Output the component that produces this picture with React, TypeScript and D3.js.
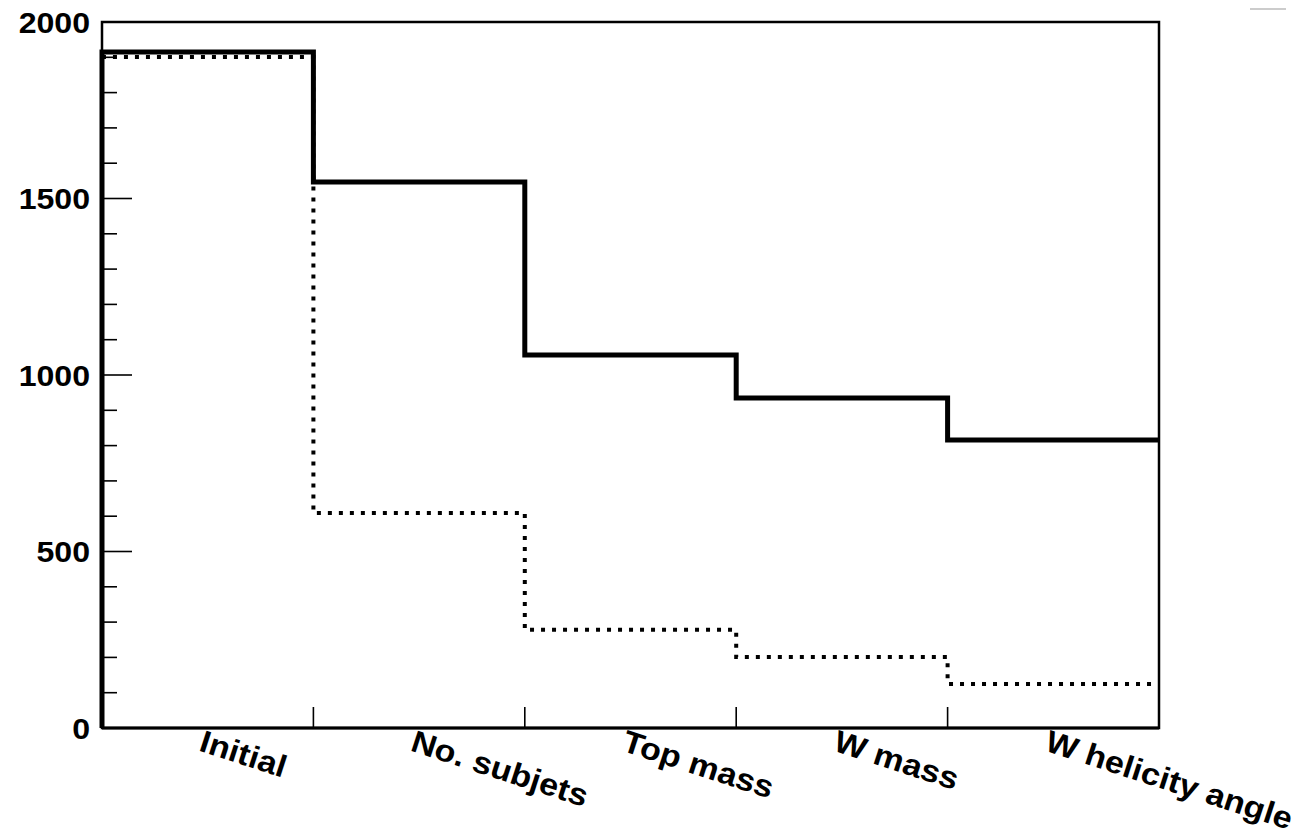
import React from "react";
import * as d3 from "d3";

const categories = ["Initial", "No. subjets", "Top mass", "W mass", "W helicity angle"];
const solidValues = [1915, 1547, 1057, 935, 816];
const dottedValues = [1901, 609, 278, 201, 125];
const yMajorTicks = [0, 500, 1000, 1500, 2000];
const yMinorTicks = d3.range(0, 2001, 100);

const W = 1310;
const H = 835;
const left = 102;
const right = 1159;
const top = 22;
const bottom = 728;

export default function App() {
  const x = d3.scaleLinear().domain([0, categories.length]).range([left, right]);
  const y = d3.scaleLinear().domain([0, 2000]).range([bottom, top]);

  const mk = (vals: number[]) => {
    const pts: [number, number][] = [[0, 0]];
    vals.forEach((v, i) => pts.push([i, v]));
    pts.push([vals.length, vals[vals.length - 1]]);
    return d3
      .line<[number, number]>()
      .x((d) => x(d[0]))
      .y((d) => y(d[1]))
      .curve(d3.curveStepAfter)(pts) as string;
  };

  const font = "'Liberation Sans', Arial, Helvetica, sans-serif";

  return (
    <svg
      width={W}
      height={H}
      style={{ position: "absolute", left: 0, top: 0, background: "#fff" }}
    >
      <rect x={0} y={0} width={W} height={H} fill="#fff" />
      {/* frame */}
      <rect x={left} y={top} width={right - left} height={bottom - top} fill="none" stroke="#000" strokeWidth={2.5} />
      <line x1={left} x2={right} y1={bottom} y2={bottom} stroke="#000" strokeWidth={3} />
      {/* y ticks */}
      {yMinorTicks.map((t) => {
        const major = t % 500 === 0;
        return (
          <line
            key={"yt" + t}
            x1={left}
            x2={left + (major ? 30 : 15)}
            y1={y(t)}
            y2={y(t)}
            stroke="#000"
            strokeWidth={1.6}
          />
        );
      })}
      {yMajorTicks.map((t) => (
        <text
          key={"yl" + t}
          transform={`translate(90,${y(t)}) scale(1.07,1)`}
          dy="0.36em"
          textAnchor="end"
          fontFamily={font}
          fontWeight="bold"
          fontSize={30}
          fill="#000"
        >
          {t}
        </text>
      ))}
      {/* x ticks */}
      {d3.range(1, categories.length).map((i) => (
        <line key={"xt" + i} x1={x(i)} x2={x(i)} y1={bottom} y2={bottom - 21} stroke="#000" strokeWidth={1.6} />
      ))}
      {categories.map((c, i) => {
        const cx = x(i + 0.5);
        return (
          <text
            key={"xl" + i}
            transform={`translate(${cx - 3},${bottom + 1}) rotate(18) scale(1.1,1)`}
            dy="0.72em"
            textAnchor="start"
            fontFamily={font}
            fontWeight="bold"
            fontSize={31}
            fill="#000"
          >
            {c}
          </text>
        );
      })}
      {/* histograms */}
      <path d={mk(dottedValues)} fill="none" stroke="#000" strokeWidth={4} strokeDasharray="4 7" />
      <path d={mk(solidValues)} fill="none" stroke="#000" strokeWidth={5} strokeLinejoin="miter" />
      {/* small artifact top right */}
      <line x1={1250} x2={1286} y1={9} y2={9} stroke="#999" strokeWidth={1} />
    </svg>
  );
}
